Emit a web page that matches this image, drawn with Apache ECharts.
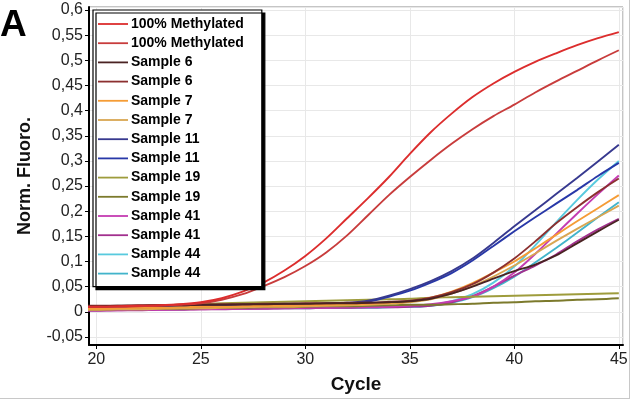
<!DOCTYPE html>
<html>
<head>
<meta charset="utf-8">
<script src="https://cdn.jsdelivr.net/npm/echarts@6/dist/echarts.min.js"></script>
<style>
html,body{margin:0;padding:0;background:#fff;}
#chart{width:633px;height:400px;}
</style>
</head>
<body>
<div id="chart"></div>
<script>
// ---- DATA ----
const cycles = [19,20,21,22,23,24,25,26,27,28,29,30,31,32,33,34,35,36,37,38,39,40,41,42,43,44,45];

const seriesNames = ["100% Methylated","100% Methylated","Sample 6","Sample 6","Sample 7","Sample 7",
  "Sample 11","Sample 11","Sample 19","Sample 19","Sample 41","Sample 41","Sample 44","Sample 44"];

const meth100a = [0.010,0.010,0.011,0.012,0.013,0.015,0.019,0.027,0.040,0.058,0.082,0.111,0.146,0.186,0.226,0.268,0.314,0.357,0.394,0.427,0.454,0.477,0.497,0.514,0.530,0.544,0.556];
const meth100b = [0.009,0.010,0.010,0.011,0.012,0.014,0.017,0.024,0.035,0.051,0.069,0.091,0.118,0.152,0.192,0.232,0.268,0.302,0.334,0.363,0.389,0.412,0.436,0.458,0.479,0.500,0.520];
const sample6a = [0.011,0.011,0.012,0.012,0.013,0.013,0.014,0.014,0.015,0.015,0.016,0.016,0.017,0.017,0.018,0.019,0.021,0.026,0.036,0.050,0.066,0.081,0.094,0.112,0.136,0.160,0.183];
const sample6b = [0.012,0.012,0.012,0.013,0.013,0.014,0.014,0.015,0.015,0.016,0.016,0.017,0.017,0.018,0.018,0.020,0.022,0.028,0.039,0.055,0.078,0.106,0.140,0.176,0.208,0.238,0.265];
const sample7a = [0.006,0.006,0.007,0.008,0.008,0.009,0.010,0.010,0.011,0.012,0.012,0.013,0.014,0.015,0.016,0.018,0.021,0.028,0.040,0.057,0.078,0.100,0.126,0.153,0.180,0.206,0.232];
const sample7b = [0.004,0.004,0.005,0.005,0.006,0.007,0.007,0.008,0.009,0.010,0.010,0.011,0.012,0.013,0.014,0.016,0.019,0.025,0.036,0.051,0.070,0.092,0.116,0.141,0.165,0.188,0.211];
const sample11a = [0.008,0.008,0.009,0.009,0.010,0.010,0.011,0.012,0.012,0.013,0.014,0.015,0.016,0.018,0.022,0.032,0.045,0.061,0.081,0.106,0.137,0.170,0.202,0.234,0.266,0.299,0.332];
const sample11b = [0.007,0.007,0.008,0.008,0.009,0.009,0.010,0.011,0.011,0.012,0.013,0.014,0.015,0.017,0.020,0.030,0.042,0.058,0.077,0.102,0.131,0.160,0.188,0.215,0.242,0.270,0.296];
const sample19a = [0.008,0.008,0.010,0.011,0.013,0.014,0.016,0.017,0.018,0.019,0.020,0.021,0.022,0.023,0.024,0.025,0.026,0.028,0.029,0.030,0.031,0.032,0.033,0.034,0.035,0.036,0.037];
const sample19b = [0.004,0.004,0.005,0.005,0.006,0.006,0.007,0.008,0.008,0.009,0.009,0.010,0.011,0.011,0.012,0.013,0.014,0.014,0.015,0.016,0.018,0.019,0.021,0.022,0.024,0.025,0.027];
const sample41a = [0.003,0.003,0.003,0.004,0.004,0.005,0.005,0.006,0.006,0.007,0.007,0.008,0.008,0.009,0.009,0.010,0.012,0.015,0.021,0.030,0.050,0.078,0.115,0.155,0.195,0.234,0.271];
const sample41b = [0.002,0.002,0.003,0.003,0.004,0.004,0.005,0.005,0.006,0.006,0.007,0.007,0.008,0.008,0.009,0.009,0.010,0.012,0.019,0.031,0.050,0.072,0.092,0.114,0.140,0.164,0.185];
const sample44a = [0.004,0.004,0.005,0.005,0.006,0.006,0.006,0.007,0.007,0.008,0.008,0.008,0.009,0.009,0.009,0.010,0.010,0.013,0.021,0.035,0.058,0.090,0.132,0.178,0.222,0.263,0.300];
const sample44b = [0.004,0.004,0.004,0.005,0.005,0.005,0.006,0.006,0.006,0.007,0.007,0.007,0.008,0.008,0.008,0.009,0.010,0.012,0.018,0.029,0.047,0.070,0.098,0.127,0.157,0.188,0.218];

const allValues = [meth100a,meth100b,sample6a,sample6b,sample7a,sample7b,sample11a,sample11b,
  sample19a,sample19b,sample41a,sample41b,sample44a,sample44b];

const colors = ["#dc2d2d","#c83c3c","#4a2323","#8c3030","#f59c36","#d9a652","#37398f","#2838a8",
  "#9e9c3c","#7c7a2c","#c43cb2","#a2308e","#58cade","#42b4cb"];

// ---- CHART ----
const FONT = "Liberation Sans";
const chart = echarts.init(document.getElementById('chart'), null, {renderer:'canvas'});

const series = allValues.map((vals, i) => ({
  name: seriesNames[i] + '#' + i,
  type: 'line',
  symbol: 'none',
  smooth: 0.3,
  clip: true,
  data: cycles.map((c, j) => [c, vals[j]]),
  lineStyle: {width: 1.9, color: colors[i]},
  itemStyle: {color: colors[i]},
  z: 2 + (13 - i) * 0.01
}));

function near(v, step){ return Math.abs(v/step - Math.round(v/step)) < 1e-6; }

chart.setOption({
  animation: false,
  backgroundColor: '#fff',
  textStyle: {fontFamily: FONT},
  grid: {left: 89, right: 10, top: 7, bottom: 55, show: true, borderColor: '#8a8a8a', borderWidth: 1, backgroundColor: 'transparent'},
  xAxis: {
    type: 'value', min: 19.65, max: 45.2, splitNumber: 5,
    name: 'Cycle', nameLocation: 'middle', nameGap: 30,
    nameTextStyle: {fontFamily: FONT, fontSize: 19, fontWeight: 'bold', color: '#111'},
    axisLine: {show: true, onZero: false, lineStyle: {color: '#000', width: 2}},
    axisTick: {show: true, length: 4, lineStyle: {color: '#000'}},
    axisLabel: {fontFamily: FONT, fontSize: 16, color: '#222', margin: 7,
      showMinLabel: false, showMaxLabel: false,
      formatter: v => near(v, 5) ? String(Math.round(v)) : ''},
    splitLine: {show: true, lineStyle: {color: '#e8e8e8', width: 1}}
  },
  yAxis: {
    type: 'value', min: -0.066, max: 0.606, splitNumber: 13,
    name: 'Norm. Fluoro.', nameLocation: 'middle', nameGap: 55, nameRotate: 90,
    nameTextStyle: {fontFamily: FONT, fontSize: 18, fontWeight: 'bold', color: '#111'},
    axisLine: {show: true, onZero: false, lineStyle: {color: '#000', width: 2}},
    axisTick: {show: true, length: 4, lineStyle: {color: '#000'}},
    axisLabel: {fontFamily: FONT, fontSize: 16, color: '#222', margin: 6,
      showMinLabel: false, showMaxLabel: false,
      formatter: v => near(v, 0.05) ? String(+v.toFixed(2)).replace('.', ',') : ''},
    splitLine: {show: true, lineStyle: {color: '#e8e8e8', width: 1}}
  },
  legend: {
    orient: 'vertical', left: 93, top: 10,
    padding: [7, 18, 6, 5],
    itemWidth: 30, itemHeight: 14, itemGap: 5.2,
    icon: 'path://M0,0H30V1.8H0Z',
    itemStyle: {borderWidth: 0},
    backgroundColor: '#fff', borderColor: '#000', borderWidth: 1.2,
    shadowColor: '#000', shadowBlur: 0, shadowOffsetX: 3, shadowOffsetY: 3,
    selectedMode: false,
    textStyle: {fontFamily: FONT, fontSize: 14, fontWeight: 'bold', color: '#000', padding: [0,0,0,-2]},
    formatter: name => name.replace(/#\d+$/, ''),
    data: series.map(s => s.name)
  },
  graphic: [
    {type: 'text', left: 0, top: 7, style: {text: 'A', fontFamily: FONT, fontSize: 37, fontWeight: 'bold', fill: '#000'}},
    {type: 'line', shape: {x1: 629.5, y1: 0, x2: 629.5, y2: 398}, style: {stroke: '#c8c8c8', lineWidth: 1}},
    {type: 'line', shape: {x1: 0, y1: 398.5, x2: 630, y2: 398.5}, style: {stroke: '#c8c8c8', lineWidth: 1}}
  ],
  series: series
});
</script>
</body>
</html>
